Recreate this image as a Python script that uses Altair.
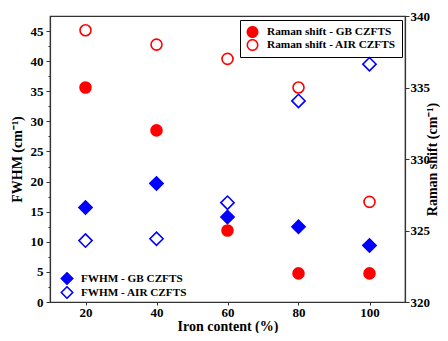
import altair as alt
import pandas as pd

iron = [20, 40, 60, 80, 100]
fwhm_gb = [15.7, 19.7, 14.1, 12.5, 9.4]
fwhm_air = [10.2, 10.5, 16.5, 33.4, 39.5]
raman_gb = [335.0, 332.0, 325.0, 322.0, 322.0]
raman_air = [339.0, 338.0, 337.0, 335.0, 327.0]

fwhm_ticks = [0, 5, 10, 15, 20, 25, 30, 35, 40, 45]
fwhm_minor = [2.5, 7.5, 12.5, 17.5, 22.5, 27.5, 32.5, 37.5, 42.5]
raman_ticks = [320, 325, 330, 335, 340]
iron_ticks = [20, 40, 60, 80, 100]

fwhm_names = ["FWHM - GB CZFTS", "FWHM - AIR CZFTS"]
raman_names = ["Raman shift - GB CZFTS", "Raman shift - AIR CZFTS"]

fwhm_df = pd.DataFrame({
    "iron": iron * 2,
    "value": fwhm_gb + fwhm_air,
    "series": [fwhm_names[0]] * 5 + [fwhm_names[1]] * 5,
})
raman_df = pd.DataFrame({
    "iron": iron * 2,
    "value": raman_gb + raman_air,
    "series": [raman_names[0]] * 5 + [raman_names[1]] * 5,
})

FONT = "Liberation Serif"

x_enc = alt.X(
    "iron:Q",
    scale=alt.Scale(domain=[10, 110], nice=False, zero=False),
    axis=alt.Axis(values=iron_ticks, title="Iron content (%)",
                  grid=False, tickSize=3, labelPadding=1, titlePadding=0),
)

fwhm_scale = alt.Scale(domain=[0, 47.5], nice=False)

fwhm = alt.Chart(fwhm_df).mark_point(
    shape="diamond", size=175, filled=True, stroke="blue", strokeWidth=1.6, opacity=1
).encode(
    x=x_enc,
    y=alt.Y("value:Q", scale=fwhm_scale,
            axis=alt.Axis(values=fwhm_ticks, title="FWHM (cm⁻¹)", orient="left",
                          grid=False, tickSize=4, labelPadding=3, titlePadding=6)),
    fill=alt.Fill("series:N",
                  scale=alt.Scale(domain=fwhm_names, range=["blue", "white"]),
                  legend=alt.Legend(orient="none", legendX=7, legendY=253, title=None,
                                    symbolType="diamond", symbolSize=130,
                                    symbolStrokeColor="blue", symbolStrokeWidth=1.6,
                                    labelFont=FONT, labelFontSize=11.2, labelFontWeight="bold",
                                    labelOffset=7, clipHeight=13, rowPadding=1, padding=3)),
)

minor = alt.Chart(fwhm_df).mark_point(opacity=0).encode(
    x=alt.X("iron:Q", scale=alt.Scale(domain=[10, 110], nice=False, zero=False)),
    y=alt.Y("value:Q", scale=fwhm_scale,
            axis=alt.Axis(values=fwhm_minor, orient="left", labels=False, domain=False,
                          grid=False, tickSize=2, title=None)),
)

raman = alt.Chart(raman_df).mark_point(
    shape="circle", size=120, filled=True, stroke="red", strokeWidth=1.6, opacity=1
).encode(
    x=x_enc,
    y=alt.Y("value:Q",
            scale=alt.Scale(domain=[320, 340], nice=False, zero=False),
            axis=alt.Axis(orient="right", values=raman_ticks,
                          title="Raman shift (cm⁻¹)", titleAngle=270,
                          titleX=27, titleY=143, titleBaseline="middle", titleAlign="center",
                          grid=False, tickSize=4, labelPadding=1)),
    fill=alt.Fill("series:N",
                  scale=alt.Scale(domain=raman_names, range=["red", "white"]),
                  legend=alt.Legend(orient="none", legendX=190, legendY=4, title=None,
                                    symbolType="circle", symbolSize=110,
                                    symbolStrokeColor="red", symbolStrokeWidth=1.6,
                                    strokeColor="black",
                                    labelFont=FONT, labelFontSize=11.3, labelFontWeight="bold",
                                    labelOffset=8, clipHeight=12, rowPadding=1, padding=6)),
)

chart = alt.layer(fwhm, raman, minor).resolve_scale(
    y="independent", fill="independent"
).resolve_legend(fill="independent").properties(
    width=355, height=286,
    autosize=alt.AutoSizeParams(type="none"),
    padding={"left": 42, "top": 8, "right": 35, "bottom": 31},
).configure_view(
    stroke="#333333", strokeWidth=1.2
).configure_axis(
    labelFont=FONT, titleFont=FONT, labelFontSize=13, titleFontSize=14,
    labelFontWeight="bold", titleFontWeight="bold",
    labelColor="black", titleColor="black",
    domainColor="#333333", tickColor="#333333", domainWidth=1.2,
)

chart.save("out.html", embed_options={"renderer": "svg", "actions": False})
